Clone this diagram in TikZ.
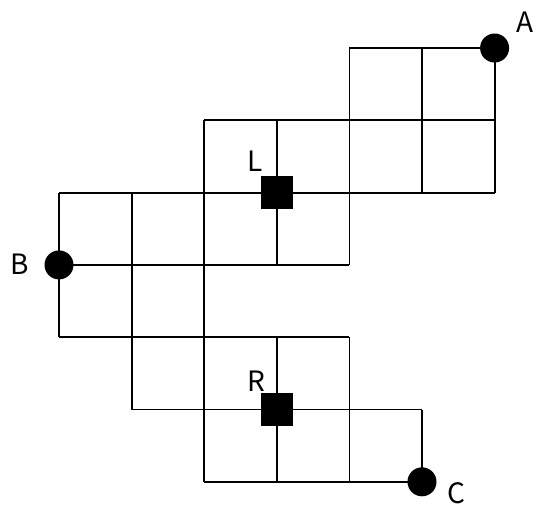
\documentclass[tikz,border=0pt]{standalone}
\usepackage{fontspec}
\setmainfont{Noto Sans CJK JP}
\begin{document}
\begin{tikzpicture}[x=1pt,y=-1pt,
  gridline/.style={line width=1.8pt,black},
  dot/.style={circle,fill=black,inner sep=0pt,minimum size=29pt},
  blk/.style={rectangle,fill=black,inner sep=0pt,minimum size=32.5pt},
  lbl/.style={font=\fontsize{28}{32}\selectfont,inner sep=0pt}]
\useasboundingbox (0,0) rectangle (536,507);
\begin{scope}[shift={(59,48)},x=72.6pt,y=-72.3pt]
  % horizontal lines
  \draw[gridline] (4,0) -- (6,0);
  \draw[gridline] (2,1) -- (6,1);
  \draw[gridline] (0,2) -- (6,2);
  \draw[gridline] (0,3) -- (4,3);
  \draw[gridline] (0,4) -- (4,4);
  \draw[gridline] (1,5) -- (5,5);
  \draw[gridline] (2,6) -- (5,6);
  % vertical lines
  \draw[gridline] (0,2) -- (0,4);
  \draw[gridline] (1,2) -- (1,5);
  \draw[gridline] (2,1) -- (2,6);
  \draw[gridline] (3,1) -- (3,3) (3,4) -- (3,6);
  \draw[gridline] (4,0) -- (4,3) (4,4) -- (4,6);
  \draw[gridline] (5,0) -- (5,2) (5,5) -- (5,6);
  \draw[gridline] (6,0) -- (6,2);
  % points
  \node[dot] (A) at (6,0) {};
  \node[dot] (B) at (0,3) {};
  \node[dot] (C) at (5,6) {};
  \node[blk] (L) at (3,2) {};
  \node[blk] (R) at (3,5) {};
\end{scope}
\node[lbl] (lA) at ([shift={(30pt,26pt)}]A.center) {A};
\node[lbl] (lB) at ([shift={(-39pt,1pt)}]B.center) {B};
\node[lbl] (lL) at ([shift={(-22pt,31pt)}]L.center) {L};
\node[lbl] (lR) at ([shift={(-20pt,28pt)}]R.center) {R};
\node[lbl] (lC) at ([shift={(34pt,-11pt)}]C.center) {C};
\end{tikzpicture}
\end{document}
